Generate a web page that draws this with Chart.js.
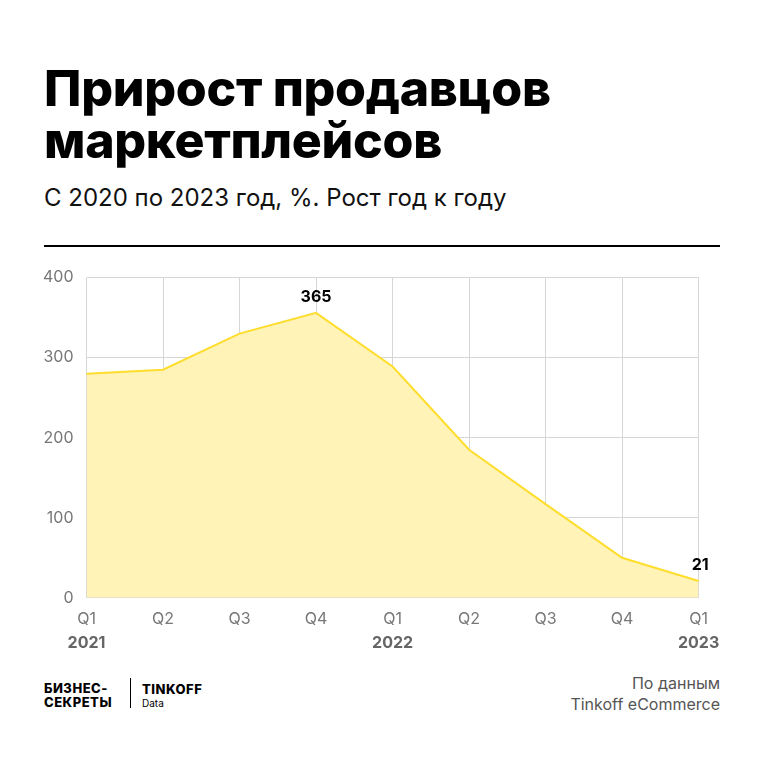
<!DOCTYPE html>
<html><head><meta charset="utf-8">
<script src="https://cdn.jsdelivr.net/npm/chart.js@4"></script>
<style>
body{margin:0;width:764px;height:778px;background:#fff;font-family:Inter,"Noto Sans",sans-serif;position:relative;overflow:hidden}
h1{position:absolute;left:44px;top:62px;margin:0;font-size:50px;line-height:52px;font-weight:800;letter-spacing:-0.3px;color:#000}
.sub{position:absolute;left:44px;top:183px;font-size:24px;color:#111}
.rule{position:absolute;left:44px;top:245px;width:676px;height:2px;background:#000}
#wrap{position:absolute;left:30px;top:255px;width:690px;height:410px}
.logo{position:absolute;left:44px;top:681px;font-size:13px;font-weight:800;line-height:14px;letter-spacing:0.5px}
.bar{position:absolute;left:130px;top:678px;width:1px;height:30px;background:#000}
.tk{position:absolute;left:142px;top:681px;font-size:13px;font-weight:800;letter-spacing:0.5px}
.tk span{display:block;font-size:10px;font-weight:400;letter-spacing:0}
.src{position:absolute;right:44px;top:673px;text-align:right;font-size:16px;line-height:21px;color:#555}
</style></head><body>
<h1>Прирост продавцов<br>маркетплейсов</h1>
<div class="sub">С 2020 по 2023 год, %. Рост год к году</div>
<div class="rule"></div>
<div id="wrap"><canvas id="c"></canvas></div>
<div class="logo">БИЗНЕС-<br>СЕКРЕТЫ</div>
<div class="bar"></div>
<div class="tk">TINKOFF<span>Data</span></div>
<div class="src">По данным<br>Tinkoff eCommerce</div>
<script>
const quarters = ['Q1', 'Q2', 'Q3', 'Q4', 'Q1', 'Q2', 'Q3', 'Q4', 'Q1'];
const years = ['2021', '', '', '', '2022', '', '', '', '2023'];
const growth = [280, 285, 330, 356, 289, 185, 117, 50, 21];
const pointLabels = ['', '', '', '365', '', '', '', '', '21'];

const labelPlugin = {
  id: 'labels',
  afterDraw(chart) {
    const ctx = chart.ctx;
    const meta = chart.getDatasetMeta(0);
    const xs = chart.scales.x;
    ctx.save();
    ctx.font = 'bold 16px Inter';
    ctx.fillStyle = '#000';
    ctx.textBaseline = 'bottom';
    meta.data.forEach((p, i) => {
      if (!pointLabels[i]) return;
      const last = i === growth.length - 1;
      ctx.textAlign = last ? 'right' : 'center';
      ctx.fillText(pointLabels[i], last ? p.x + 10 : p.x, p.y - 8);
    });
    // year line under quarter ticks
    ctx.fillStyle = '#666';
    ctx.textBaseline = 'top';
    years.forEach((y, i) => {
      if (!y) return;
      ctx.textAlign = 'center';
      ctx.fillText(y, xs.getPixelForValue(i), chart.chartArea.bottom + 37);
    });
    ctx.restore();
  }
};

new Chart(document.getElementById('c'), {
  type: 'line',
  data: {
    labels: quarters,
    datasets: [{
      data: growth,
      borderColor: '#ffdd2d',
      borderWidth: 2,
      backgroundColor: '#fff3b8',
      fill: true,
      tension: 0,
      pointRadius: 0
    }]
  },
  options: {
    responsive: true, maintainAspectRatio: false, animation: false,
    layout: { padding: { right: 20, top: 15, bottom: 24 } },
    plugins: { legend: { display: false }, tooltip: { enabled: false } },
    scales: {
      x: {
        offset: false,
        grid: { color: '#d6d6d6', drawTicks: false },
        border: { display: false },
        ticks: {
          color: '#777', font: { size: 16, family: 'Inter' }, padding: 12,
          maxRotation: 0, autoSkip: false
        }
      },
      y: {
        min: 0, max: 400,
        grid: { color: '#d6d6d6', drawTicks: false },
        border: { display: false },
        ticks: { stepSize: 100, color: '#777', font: { size: 16, family: 'Inter' }, padding: 13 }
      }
    }
  },
  plugins: [labelPlugin]
});
</script>
</body></html>
